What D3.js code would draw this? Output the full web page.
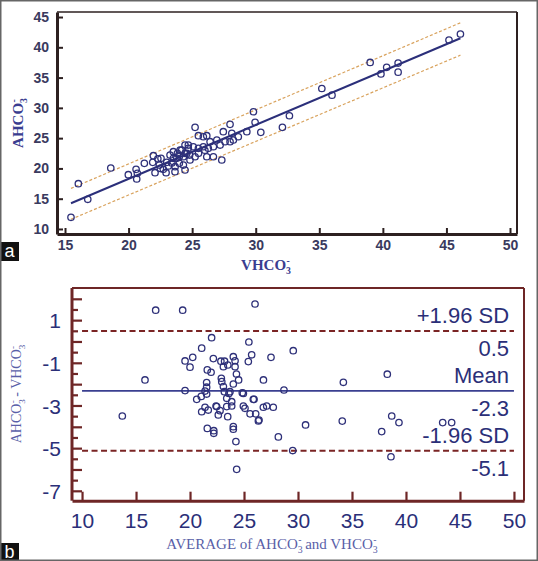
<!DOCTYPE html>
<html><head><meta charset="utf-8">
<script src="https://cdn.jsdelivr.net/npm/d3@7"></script>
<style>html,body{margin:0;padding:0;background:#fff}svg{display:block}</style>
</head><body>
<script>
// ---------- Panel a: scatter VHCO3 vs AHCO3 ----------
const scatterPoints = [
  [15.47,11.93],[16.05,17.48],[16.79,14.90],[18.60,20.07],[19.98,18.96],[20.59,19.85],[20.69,19.19],
  [20.64,18.25],[21.24,20.84],[21.95,22.10],[22.08,19.29],[22.42,20.56],[22.55,21.67],[22.73,19.85],
  [22.95,19.29],[23.13,20.40],[23.26,22.21],[23.52,21.67],[23.65,19.46],[23.84,22.49],[23.99,20.84],
  [24.18,23.04],[24.31,21.93],[24.58,22.49],[24.70,23.86],[23.52,22.76],[23.79,21.67],[24.05,23.04],
  [24.44,23.86],[24.44,22.49],[24.70,23.32],[24.83,21.39],[25.09,23.58],[25.23,21.93],[25.49,23.32],
  [25.88,23.58],[26.15,21.93],[26.27,23.32],[26.67,21.93],[26.67,23.58],[27.20,23.86],[27.33,21.39],
  [27.59,24.41],[27.98,24.41],[28.24,24.69],[24.31,20.56],[23.66,20.28],[24.44,19.74],[25.88,25.23],
  [25.49,25.40],[26.15,25.40],[25.23,26.78],[27.45,26.06],[28.12,25.79],[27.98,27.28],[28.63,25.23],
  [29.30,26.06],[29.82,29.36],[29.95,27.61],[30.40,25.96],[32.10,26.78],[32.65,28.70],[26.41,24.41],
  [26.94,24.69],[35.2,33.2],[36.0,32.1],[39.0,37.5],[39.85,35.6],[40.3,36.7],[41.2,37.4],[41.2,35.9],
  [45.2,41.2],[46.1,42.2],[22.5,20.0],[21.9,21.0],[23.0,21.0],[24.0,22.0],[25.5,22.5],[26.0,23.0],
  [24.8,22.2],[22.3,21.6],[23.4,20.9]
];
const regressionLine = [[15.47,14.25],[46.1,41.5]];
const upperBandLine  = [[15.47,16.7],[46.1,44.05]];
const lowerBandLine  = [[15.47,11.6],[46.1,38.7]];
const scatterXTicks = [15,20,25,30,35,40,45,50];
const scatterYTicks = [10,15,20,25,30,35,40,45];

// ---------- Panel b: Bland-Altman ----------
const baPoints = [
  [16.82,1.49],[19.32,1.49],[26.02,1.78],[15.83,-1.78],[13.73,-3.47],[19.54,-2.28],[19.54,-0.89],
  [20.25,-0.72],[20.0,-1.18],[21.08,-0.29],[22.0,0.2],[21.6,-1.31],[21.95,-1.42],[22.16,-0.78],
  [22.86,-0.9],[23.2,-0.9],[23.5,-1.08],[24.01,-0.69],[24.17,-0.88],[23.09,-1.16],[24.17,-1.16],
  [24.3,-1.5],[24.5,-1.78],[22.9,-1.7],[22.94,-1.86],[23.09,-2.09],[24.01,-1.97],[21.54,-1.9],
  [21.54,-2.12],[21.39,-2.3],[21.54,-2.44],[21.04,-2.55],[20.62,-2.69],[23.18,-2.33],[23.70,-2.33],
  [24.84,-2.38],[23.4,-2.64],[23.86,-2.8],[25.86,-2.69],[26.79,-3.06],[27.1,-3.0],[27.71,-3.06],
  [28.7,-2.25],[21.39,-3.06],[21.69,-3.19],[21.08,-3.27],[22.47,-3.03],[22.78,-3.22],[22.62,-3.42],
  [23.4,-3.03],[23.86,-3.0],[23.49,-3.5],[24.94,-3.0],[25.09,-3.11],[25.56,-3.37],[26.08,-3.37],
  [26.39,-3.66],[21.6,-4.05],[22.2,-4.16],[22.2,-4.28],[24.01,-3.97],[24.01,-4.09],[24.25,-4.67],
  [28.18,-4.45],[24.32,-5.97],[25.45,0.0],[25.71,-0.6],[25.4,-0.92],[27.5,-0.72],[26.8,-1.78],
  [29.56,-0.41],[34.2,-1.89],[38.27,-1.51],[30.7,-3.89],[34.1,-3.71],[38.68,-3.47],[39.35,-3.78],
  [43.4,-3.78],[44.23,-3.78],[37.75,-4.2],[29.51,-5.09],[38.61,-5.38],[26.33,-3.7],[23.6,-2.41],
  [22.41,-3.0],[24.94,-2.41],[25.93,-2.69]
];
const baMean = -2.29, baUpper = 0.52, baLower = -5.1;
const baLineSpan = [10, 50];
const baXTicks = [10,15,20,25,30,35,40,45,50];
const baYLabelTicks = [1,-1,-3,-5,-7];
const baYTicks = [2,1.5,1,0.5,0,-0.5,-1,-1.5,-2,-2.5,-3,-3.5,-4,-4.5,-5,-5.5,-6,-6.5,-7];
const baLabelsAbove = [["+1.96 SD", 0.52],["Mean", -2.29],["-1.96 SD", -5.1]];
const baLabelsBelow = [["0.5", 0.52],["-2.3", -2.29],["-5.1", -5.1]];

const W = 538, H = 561;
const svg = d3.select("body").append("svg").attr("width", W).attr("height", H);
svg.append("rect").attr("width", W).attr("height", H).attr("fill", "#fff");

function chem(textSel, parts, fs) {
  let shift = 0, prev = "n";
  parts.forEach(([t, kind]) => {
    let target = 0, size = fs;
    if (kind === "sub") { target = 0.25 * fs; size = 0.65 * fs; }
    if (kind === "sup") { target = -0.38 * fs; size = 0.65 * fs; }
    const ts = textSel.append("tspan").attr("dy", target - shift).attr("font-size", size).text(t);
    if (kind === "sup" && prev === "sub") ts.attr("dx", -0.3 * fs);
    shift = target; prev = kind;
  });
}

// ===== Panel a =====
const xA = d3.scaleLinear().domain([14.37, 50.55]).range([57, 517]);
const yA = d3.scaleLinear().domain([9.17, 45.83]).range([234, 12]);
const gA = svg.append("g");
const frameA = "#2d2020";
gA.append("line").attr("x1", xA.range()[0]).attr("x2", xA.range()[1]).attr("y1", yA.range()[1]).attr("y2", yA.range()[1]).attr("stroke", frameA).attr("stroke-width", 1.5);
gA.append("line").attr("x1", xA.range()[1]).attr("x2", xA.range()[1]).attr("y1", yA.range()[1]).attr("y2", yA.range()[0]).attr("stroke", frameA).attr("stroke-width", 2);

const axAx = d3.axisBottom(xA).tickValues(scatterXTicks).tickSizeInner(-6).tickSizeOuter(0).tickPadding(6);
const axAy = d3.axisLeft(yA).tickValues(scatterYTicks).tickSizeInner(-6).tickSizeOuter(0).tickPadding(8);
const gax = gA.append("g").attr("transform", `translate(0,${yA.range()[0]})`).call(axAx);
const gay = gA.append("g").attr("transform", `translate(${xA.range()[0]},0)`).call(axAy);
[gax, gay].forEach(g => {
  g.select(".domain").attr("stroke", frameA).attr("stroke-width", 3);
  g.selectAll(".tick line").attr("stroke", frameA).attr("stroke-width", 2);
  g.selectAll(".tick text").attr("fill", "#3a3a5e").attr("font-size", 14).attr("font-weight", "bold")
    .attr("font-family", "Liberation Sans, Arial, sans-serif");
});

const lineA = d3.line().x(d => xA(d[0])).y(d => yA(d[1]));
gA.append("path").datum(upperBandLine).attr("d", lineA).attr("fill", "none").attr("stroke", "#d9a35e").attr("stroke-width", 1.2).attr("stroke-dasharray", "3,2");
gA.append("path").datum(lowerBandLine).attr("d", lineA).attr("fill", "none").attr("stroke", "#d9a35e").attr("stroke-width", 1.2).attr("stroke-dasharray", "3,2");
gA.append("path").datum(regressionLine).attr("d", lineA).attr("fill", "none").attr("stroke", "#2b2f7a").attr("stroke-width", 2);
gA.selectAll("circle.pa").data(scatterPoints).enter().append("circle").attr("class", "pa")
  .attr("cx", d => xA(d[0])).attr("cy", d => yA(d[1])).attr("r", 3.2)
  .attr("fill", "none").attr("stroke", "#2e3079").attr("stroke-width", 1.3);

const tAx = gA.append("text").attr("x", 266).attr("y", 270).attr("text-anchor", "middle")
  .attr("font-family", "Liberation Serif, Times New Roman, serif").attr("font-weight", "bold")
  .attr("fill", "#3a3d90").attr("font-size", 15);
chem(tAx, [["VHCO","n"],["3","sub"],["-","sup"]], 15);
const tAy = gA.append("text").attr("transform", "translate(23,123) rotate(-90)").attr("text-anchor", "middle")
  .attr("font-family", "Liberation Serif, Times New Roman, serif").attr("font-weight", "bold")
  .attr("fill", "#3a3d90").attr("font-size", 15);
chem(tAy, [["AHCO","n"],["3","sub"],["-","sup"]], 15);

// ===== Panel b =====
const xB = d3.scaleLinear().domain([9.07, 50.93]).range([72, 524]);
const yB = d3.scaleLinear().domain([-7.44, 2.53]).range([500.7, 288]);
const gB = svg.append("g");
const frameB = "#6e2626";
gB.append("line").attr("x1", xB.range()[0]).attr("x2", xB.range()[1]).attr("y1", yB.range()[1]).attr("y2", yB.range()[1]).attr("stroke", frameB).attr("stroke-width", 2);
gB.append("line").attr("x1", xB.range()[1]).attr("x2", xB.range()[1]).attr("y1", yB.range()[1]).attr("y2", yB.range()[0]).attr("stroke", frameB).attr("stroke-width", 2);

const axBx = d3.axisBottom(xB).tickValues(baXTicks).tickSizeInner(-9).tickSizeOuter(0).tickPadding(12);
const gbx = gB.append("g").attr("transform", `translate(0,${yB.range()[0]})`).call(axBx);
gbx.select(".domain").attr("stroke", frameB).attr("stroke-width", 3);
gbx.selectAll(".tick line").attr("stroke", frameB).attr("stroke-width", 2.2);
gbx.selectAll(".tick text").attr("fill", "#2b2f78").attr("font-size", 21)
  .attr("font-family", "Liberation Sans, Arial, sans-serif");

const gby = gB.append("g");
gby.append("line").attr("x1", xB.range()[0]).attr("x2", xB.range()[0]).attr("y1", yB.range()[0]).attr("y2", yB.range()[1])
  .attr("stroke", frameB).attr("stroke-width", 3);
gby.selectAll("line.yt").data(baYTicks).enter().append("line").attr("class", "yt")
  .attr("x1", xB.range()[0]).attr("x2", d => xB.range()[0] + (Number.isInteger(d) ? 10 : 6))
  .attr("y1", d => yB(d)).attr("y2", d => yB(d)).attr("stroke", frameB).attr("stroke-width", 2.2);
gby.selectAll("text.yl").data(baYLabelTicks).enter().append("text").attr("class", "yl")
  .attr("x", xB.range()[0] - 11).attr("y", d => yB(d)).attr("dy", "0.36em").attr("text-anchor", "end")
  .attr("fill", "#2b2f78").attr("font-size", 21).attr("font-family", "Liberation Sans, Arial, sans-serif")
  .text(d => d);

const hline = (v, color, w, dash) => gB.append("line")
  .attr("x1", xB(baLineSpan[0])).attr("x2", xB(baLineSpan[1])).attr("y1", yB(v)).attr("y2", yB(v))
  .attr("stroke", color).attr("stroke-width", w).attr("stroke-dasharray", dash);
hline(baUpper, "#7a2424", 2, "6,3.5");
hline(baLower, "#7a2424", 2, "6,3.5");
hline(baMean, "#3a3f90", 1.6, null);

gB.selectAll("circle.pb").data(baPoints).enter().append("circle").attr("class", "pb")
  .attr("cx", d => xB(d[0])).attr("cy", d => yB(d[1])).attr("r", 3.2)
  .attr("fill", "none").attr("stroke", "#2e3079").attr("stroke-width", 1.3);

const labX = xB(49.55);
gB.selectAll("text.la").data(baLabelsAbove).enter().append("text").attr("class", "la")
  .attr("x", labX).attr("y", d => yB(d[1]) - 7.5).attr("text-anchor", "end")
  .attr("fill", "#2b2f78").attr("font-size", 22).attr("font-family", "Liberation Sans, Arial, sans-serif")
  .text(d => d[0]);
gB.selectAll("text.lb").data(baLabelsBelow).enter().append("text").attr("class", "lb")
  .attr("x", labX).attr("y", d => yB(d[1]) + 25).attr("text-anchor", "end")
  .attr("fill", "#2b2f78").attr("font-size", 22).attr("font-family", "Liberation Sans, Arial, sans-serif")
  .text(d => d[0]);

const tBx = gB.append("text").attr("x", 272).attr("y", 549).attr("text-anchor", "middle")
  .attr("font-family", "Liberation Serif, Times New Roman, serif")
  .attr("fill", "#5a5fa8").attr("font-size", 15);
chem(tBx, [["AVERAGE of AHCO","n"],["3","sub"],["-","sup"],[" and VHCO","n"],["3","sub"],["-","sup"]], 15);
const tBy = gB.append("text").attr("transform", "translate(21,394) rotate(-90)").attr("text-anchor", "middle")
  .attr("font-family", "Liberation Serif, Times New Roman, serif")
  .attr("fill", "#5a5fa8").attr("font-size", 14);
chem(tBy, [["AHCO","n"],["3","sub"],["-","sup"],[" - VHCO","n"],["3","sub"],["-","sup"]], 14);

// panel letters
[["a", 242], ["b", 543]].forEach(([t, y0]) => {
  svg.append("rect").attr("x", 0).attr("y", y0).attr("width", 19).attr("height", 19).attr("fill", "#111");
  svg.append("text").attr("x", 9.5).attr("y", y0 + 15).attr("text-anchor", "middle").attr("fill", "#fff")
    .attr("font-size", 18).attr("font-family", "Liberation Sans, Arial, sans-serif").text(t);
});

// outer border
svg.append("rect").attr("x", 0.75).attr("y", 0.75).attr("width", W - 1.5).attr("height", H - 1.5)
  .attr("fill", "none").attr("stroke", "#666").attr("stroke-width", 1.5);
</script>
</body></html>
